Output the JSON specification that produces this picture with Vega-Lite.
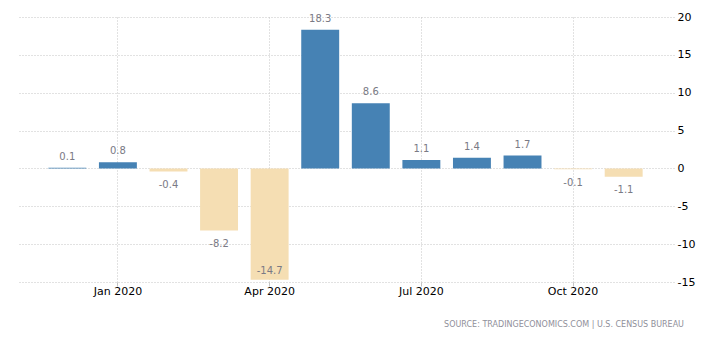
{
  "$schema": "https://vega.github.io/schema/vega-lite/v6.json",
  "autosize": "none",
  "padding": {"left": 17, "top": 17, "right": 41, "bottom": 71},
  "width": 657,
  "height": 265,
  "background": "white",
  "config": {
    "view": {"stroke": null},
    "font": "DejaVu Sans"
  },
  "title": {
    "text": "SOURCE: TRADINGECONOMICS.COM | U.S. CENSUS BUREAU",
    "orient": "bottom",
    "anchor": "end",
    "fontSize": 8,
    "fontWeight": "normal",
    "color": "#8f8f9a",
    "font": "DejaVu Sans",
    "offset": 25,
    "dx": -11
  },
  "data": {
    "values": [
      {"month": "Dec 2019", "value": 0.1},
      {"month": "Jan 2020", "value": 0.8},
      {"month": "Feb 2020", "value": -0.4},
      {"month": "Mar 2020", "value": -8.2},
      {"month": "Apr 2020", "value": -14.7},
      {"month": "May 2020", "value": 18.3},
      {"month": "Jun 2020", "value": 8.6},
      {"month": "Jul 2020", "value": 1.1},
      {"month": "Aug 2020", "value": 1.4},
      {"month": "Sep 2020", "value": 1.7},
      {"month": "Oct 2020", "value": -0.1},
      {"month": "Nov 2020", "value": -1.1}
    ]
  },
  "encoding": {
    "x": {
      "field": "month",
      "type": "nominal",
      "sort": null,
      "scale": {"paddingInner": 0.25, "paddingOuter": 0.62},
      "axis": {
        "title": null,
        "values": ["Jan 2020", "Apr 2020", "Jul 2020", "Oct 2020"],
        "labelAngle": 0,
        "domain": false,
        "ticks": true,
        "tickSize": 4,
        "tickColor": "#c4c4c4",
        "bandPosition": 0.5,
        "grid": true,
        "gridColor": "#c4c4c4",
        "gridDash": [1, 2],
        "labelFont": "DejaVu Sans",
        "labelFontSize": 11,
        "labelColor": "#000000",
        "labelPadding": -1
      }
    },
    "y": {
      "field": "value",
      "type": "quantitative",
      "scale": {"domain": [-15, 20], "nice": false},
      "axis": {
        "title": null,
        "orient": "right",
        "values": [-15, -10, -5, 0, 5, 10, 15, 20],
        "domain": false,
        "ticks": false,
        "grid": true,
        "gridColor": "#c4c4c4",
        "gridDash": [1, 2],
        "labelFont": "DejaVu Sans",
        "labelFontSize": 11,
        "labelColor": "#000000",
        "labelPadding": 3,
        "labelExpr": "replace(datum.label, '\u2212', '-')"
      }
    }
  },
  "layer": [
    {
      "mark": {"type": "bar"},
      "encoding": {
        "color": {
          "condition": {"test": "datum.value >= 0", "value": "#4682B4"},
          "value": "#F5DEB3"
        }
      }
    },
    {
      "transform": [{"filter": "datum.value >= 0"}],
      "mark": {"type": "text", "baseline": "middle", "dy": -11, "fontSize": 10, "color": "#7a7a85", "font": "DejaVu Sans"},
      "encoding": {"text": {"field": "value", "type": "nominal"}}
    },
    {
      "transform": [{"filter": "datum.value < 0 && datum.value > -12"}],
      "mark": {"type": "text", "baseline": "middle", "dy": 13.5, "fontSize": 10, "color": "#7a7a85", "font": "DejaVu Sans"},
      "encoding": {"text": {"field": "value", "type": "nominal"}}
    },
    {
      "transform": [{"filter": "datum.value <= -12"}],
      "mark": {"type": "text", "baseline": "middle", "dy": -9, "fontSize": 10, "color": "#7a7a85", "font": "DejaVu Sans"},
      "encoding": {"text": {"field": "value", "type": "nominal"}}
    }
  ]
}
